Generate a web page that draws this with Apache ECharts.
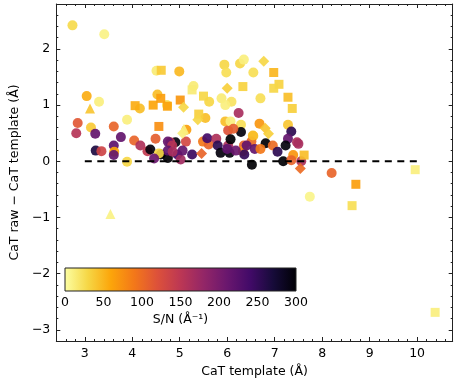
<!DOCTYPE html>
<html>
<head>
<meta charset="utf-8">
<title></title>
<style>
  html, body { margin: 0; padding: 0; background: #fff; }
  #wrap { width: 460px; height: 383px; }
</style>
<script src="https://cdn.jsdelivr.net/npm/echarts@6/dist/echarts.min.js"></script>
</head>
<body>
<div id="wrap"></div>
<script>
// each point: [CaT template, CaT raw - CaT template, S/N]
var circles = [
  [2.74, 2.42, 28], [3.41, 2.26, 10], [3.04, 1.16, 55], [3.30, 1.06, 12],
  [2.85, 0.68, 115], [2.82, 0.50, 155], [3.13, 0.60, 38], [3.22, 0.49, 215],
  [3.23, 0.19, 265], [3.35, 0.18, 135], [3.61, 0.62, 105], [3.61, 0.28, 220],
  [3.62, 0.17, 60], [3.61, 0.11, 215], [3.89, 0.74, 12], [3.76, 0.43, 215],
  [3.89, -0.01, 30], [4.04, 0.37, 105], [4.16, 0.94, 45], [4.17, 0.28, 160],
  [4.32, 0.18, 145], [4.38, 0.21, 295], [4.49, 0.40, 110], [4.53, 1.19, 45],
  [4.51, 1.61, 15], [4.99, 1.60, 48], [4.73, 1.00, 22], [5.29, 1.34, 15],
  [5.62, 1.06, 30], [5.54, 0.77, 45], [5.14, 0.56, 65], [5.13, 0.35, 130],
  [4.91, 0.34, 295], [4.80, 0.34, 150], [4.75, 0.35, 215], [4.84, 0.28, 155],
  [4.60, 0.12, 300], [4.75, 0.06, 300], [4.75, 0.19, 220], [4.56, 0.14, 30],
  [4.46, 0.05, 210], [4.95, 0.12, 240], [5.02, 0.03, 170], [5.06, 0.19, 215],
  [5.26, 0.12, 245], [5.49, 0.35, 90], [5.61, 0.30, 105], [5.58, 0.41, 240],
  [5.77, 0.40, 160], [5.80, 0.28, 255], [5.86, 0.15, 295], [6.05, 0.15, 295],
  [6.02, 0.28, 160], [5.96, 0.71, 45], [6.02, 0.55, 120], [6.24, 0.86, 165],
  [6.07, 0.71, 12], [6.07, 0.39, 300], [5.94, 1.72, 30], [5.98, 1.58, 25],
  [6.27, 1.74, 30], [6.35, 1.81, 12], [5.88, 1.12, 15], [6.09, 1.06, 22],
  [5.96, 1.00, 12], [6.55, 1.58, 25], [6.29, 0.65, 25], [6.29, 0.52, 295],
  [6.35, 0.28, 105], [6.33, 0.18, 75], [6.36, 0.12, 250], [6.52, -0.06, 300],
  [6.13, 0.58, 110], [6.18, 0.19, 210], [6.55, 0.45, 40], [6.51, 0.35, 100],
  [6.70, 1.12, 25], [6.68, 0.67, 70], [6.54, 0.46, 45], [7.28, 0.65, 40],
  [7.35, 0.53, 255], [7.28, 0.40, 215], [7.47, 0.34, 160], [7.50, 0.31, 165],
  [7.23, 0.28, 295], [6.81, 0.32, 300], [6.41, 0.28, 215], [6.58, 0.22, 215],
  [6.70, 0.22, 90], [6.96, 0.28, 100], [7.06, 0.17, 255], [7.18, 0.00, 300],
  [7.39, 0.11, 70], [7.35, 0.02, 105], [7.56, 0.00, 160], [8.20, -0.21, 105],
  [7.74, -0.63, 8], [6.00, 0.22, 220], [4.85, 0.17, 165]
];
var squares = [
  [4.06, 0.99, 55], [4.44, 1.00, 60], [4.60, 1.12, 65], [4.61, 1.62, 38],
  [4.56, 0.62, 75], [4.74, 0.98, 62], [5.01, 1.09, 70], [5.26, 1.27, 15],
  [5.50, 1.16, 30], [5.40, 0.84, 35], [6.33, 1.33, 33], [6.98, 1.58, 50],
  [7.09, 1.37, 33], [6.98, 1.30, 30], [7.28, 1.14, 45], [7.37, 0.94, 35],
  [7.62, 0.11, 45], [9.96, -0.15, 12], [8.71, -0.41, 65], [8.63, -0.79, 25],
  [10.38, -2.69, 12]
];
var triangles = [
  [3.11, 0.94, 40], [5.09, 0.58, 12], [3.54, -0.94, 10]
];
var diamonds = [
  [5.08, 0.96, 30], [5.38, 0.74, 30], [5.06, 0.50, 12], [5.46, 0.14, 105],
  [6.00, 1.30, 35], [6.77, 1.78, 30], [6.80, 0.59, 40], [6.87, 0.49, 35],
  [7.54, -0.13, 100]
];
var zeroLine = [[3, 0], [10, 0]];
var snRange = [0, 300];

// inferno, reversed (low S/N = pale yellow, high S/N = black)
var inferno = ['#fcffa4', '#f6d746', '#fca50a', '#f37819', '#dd513a', '#bc3754',
               '#932667', '#6a176e', '#420a68', '#160b39', '#000004'];

var font = 'DejaVu Sans';
var ink = '#222';

var chart = echarts.init(document.getElementById('wrap'));

function fmtNum(v) {
  if (Math.abs(v - Math.round(v)) > 1e-6) return '';
  return v < 0 ? '\u2212' + (-v) : String(v);
}

function mainX(pos, labels) {
  return {
    type: 'value', gridIndex: 0, position: pos, min: 2.4, max: 10.75, splitNumber: 8,
    axisLine: { show: true, onZero: false, lineStyle: { color: ink, width: 1 } },
    axisTick: { show: true, inside: true, length: 4, lineStyle: { color: ink } },
    axisLabel: { show: labels, formatter: fmtNum, showMinLabel: false, showMaxLabel: false,
                 color: '#000', fontFamily: font, fontSize: 12.5, margin: 6 },
    splitLine: { show: false },
    name: labels ? 'CaT template (\u00c5)' : '', nameLocation: 'middle', nameGap: 24,
    nameTextStyle: { color: '#000', fontFamily: font, fontSize: 12.5 }
  };
}
function minorX(pos) {
  return {
    type: 'value', gridIndex: 0, position: pos, min: 2.4, max: 10.75, interval: 0.2,
    axisLine: { show: false, onZero: false }, axisLabel: { show: false }, splitLine: { show: false },
    axisTick: { show: true, inside: true, length: 2, lineStyle: { color: ink } }
  };
}
function mainY(pos, labels) {
  return {
    type: 'value', gridIndex: 0, position: pos, min: -3.2, max: 2.8, splitNumber: 6,
    axisLine: { show: true, onZero: false, lineStyle: { color: ink, width: 1 } },
    axisTick: { show: true, inside: true, length: 4, lineStyle: { color: ink } },
    axisLabel: { show: labels, formatter: fmtNum, showMinLabel: false, showMaxLabel: false,
                 color: '#000', fontFamily: font, fontSize: 12.5, margin: 6 },
    splitLine: { show: false },
    name: labels ? 'CaT raw \u2212 CaT template (\u00c5)' : '', nameLocation: 'middle', nameGap: 24,
    nameTextStyle: { color: '#000', fontFamily: font, fontSize: 12.5 }
  };
}
function minorY(pos) {
  return {
    type: 'value', gridIndex: 0, position: pos, min: -3.2, max: 2.8, interval: 0.2,
    axisLine: { show: false, onZero: false }, axisLabel: { show: false }, splitLine: { show: false },
    axisTick: { show: true, inside: true, length: 2, lineStyle: { color: ink } }
  };
}

function scatter(name, data, symbol, size) {
  return {
    name: name, type: 'scatter', xAxisIndex: 0, yAxisIndex: 0,
    data: data, symbol: symbol, symbolSize: size,
    itemStyle: { opacity: 0.92 }
  };
}

var stops = inferno.map(function (c, i) {
  return { offset: i / (inferno.length - 1), color: c };
});

var option = {
  animation: false,
  backgroundColor: '#fff',
  grid: [
    { left: 45.7, top: 4, right: 7.3, bottom: 39 },
    { left: 65, top: 268, width: 231, height: 23 }
  ],
  xAxis: [
    mainX('bottom', true), mainX('top', false), minorX('bottom'), minorX('top'),
    {
      type: 'value', gridIndex: 1, min: snRange[0], max: snRange[1], interval: 50,
      axisLine: { show: false }, axisTick: { show: false }, splitLine: { show: false },
      axisLabel: { color: '#000', fontFamily: font, fontSize: 12.5, margin: 5 },
      name: 'S/N (\u00c5\u207b\u00b9)', nameLocation: 'middle', nameGap: 22,
      nameTextStyle: { color: '#000', fontFamily: font, fontSize: 12.5 }
    }
  ],
  yAxis: [
    mainY('left', true), mainY('right', false), minorY('left'), minorY('right'),
    { type: 'value', gridIndex: 1, min: 0, max: 1, show: false }
  ],
  visualMap: {
    type: 'continuous', show: false, min: snRange[0], max: snRange[1],
    dimension: 2, seriesIndex: [0, 1, 2, 3],
    inRange: { color: inferno }
  },
  series: [
    scatter('circle', circles, 'circle', 10),
    scatter('square', squares, 'rect', 9),
    scatter('triangle', triangles, 'triangle', 10),
    scatter('diamond', diamonds, 'diamond', 11),
    {
      type: 'line', xAxisIndex: 0, yAxisIndex: 0, data: zeroLine,
      symbol: 'none', silent: true, z: 3,
      lineStyle: { color: '#000', width: 2, type: [7, 5.5] }
    },
    {
      type: 'custom', xAxisIndex: 4, yAxisIndex: 4, silent: true,
      data: [[snRange[0], 0, snRange[1], 1]],
      renderItem: function (params, api) {
        var p0 = api.coord([api.value(0), api.value(3)]);
        var p1 = api.coord([api.value(2), api.value(1)]);
        return {
          type: 'rect',
          shape: { x: p0[0], y: p0[1], width: p1[0] - p0[0], height: p1[1] - p0[1] },
          style: { fill: new echarts.graphic.LinearGradient(0, 0, 1, 0, stops), stroke: ink, lineWidth: 1 }
        };
      }
    }
  ]
};
chart.setOption(option);
</script>
</body>
</html>
